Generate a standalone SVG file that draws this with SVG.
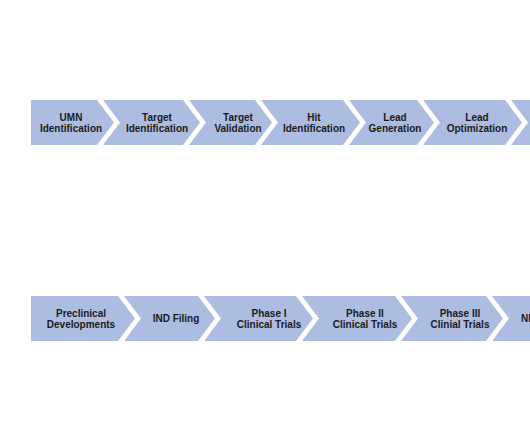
<svg xmlns="http://www.w3.org/2000/svg" width="530" height="442" viewBox="0 0 530 442">
<style>
.s{fill:#adbde2;}
.t{font-family:"Liberation Sans",Arial,sans-serif;font-weight:700;font-size:10px;fill:#1a1a1a;text-anchor:middle;}
</style>
<rect width="530" height="442" fill="#ffffff"/>
<g id="umn"><polygon class="s" points="31,100 97,100 114,122.5 97,145 31,145"/><text class="t" x="71" y="121">UMN</text><text class="t" x="71" y="132">Identification</text></g>
<g id="target-id"><polygon class="s" points="103,100 183,100 200,122.5 183,145 103,145 120,122.5"/><text class="t" x="157" y="121">Target</text><text class="t" x="157" y="132">Identification</text></g>
<g id="target-val"><polygon class="s" points="189,100 255,100 272,122.5 255,145 189,145 206,122.5"/><text class="t" x="238" y="121">Target</text><text class="t" x="238" y="132">Validation</text></g>
<g id="hit-id"><polygon class="s" points="261,100 343,100 360,122.5 343,145 261,145 278,122.5"/><text class="t" x="314" y="121">Hit</text><text class="t" x="314" y="132">Identification</text></g>
<g id="lead-gen"><polygon class="s" points="349,100 417,100 434,122.5 417,145 349,145 366,122.5"/><text class="t" x="395" y="121">Lead</text><text class="t" x="395" y="132">Generation</text></g>
<g id="lead-opt"><polygon class="s" points="423,100 505,100 522,122.5 505,145 423,145 440,122.5"/><text class="t" x="477" y="121">Lead</text><text class="t" x="477" y="132">Optimization</text></g>
<g id="row1-next"><polygon class="s" points="511,100 540,100 540,145 511,145 528,122.5"/></g>
<g id="preclinical"><polygon class="s" points="31,296 118,296 135,318.5 118,341 31,341"/><text class="t" x="81" y="317">Preclinical</text><text class="t" x="81" y="328">Developments</text></g>
<g id="ind"><polygon class="s" points="124,296 198,296 215,318.5 198,341 124,341 141,318.5"/><text class="t" x="176" y="322">IND Filing</text></g>
<g id="phase1"><polygon class="s" points="204,296 296,296 313,318.5 296,341 204,341 221,318.5"/><text class="t" x="269" y="317">Phase I</text><text class="t" x="269" y="328">Clinical Trials</text></g>
<g id="phase2"><polygon class="s" points="302,296 395,296 412,318.5 395,341 302,341 319,318.5"/><text class="t" x="365" y="317">Phase II</text><text class="t" x="365" y="328">Clinical Trials</text></g>
<g id="phase3"><polygon class="s" points="401,296 486,296 503,318.5 486,341 401,341 418,318.5"/><text class="t" x="460" y="317">Phase III</text><text class="t" x="460" y="328">Clinial Trials</text></g>
<g id="row2-next"><polygon class="s" points="492,296 540,296 540,341 492,341 509,318.5"/><text class="t" x="521" y="322" style="text-anchor:start">NI</text></g>
<g id="connectors"></g>
</svg>
